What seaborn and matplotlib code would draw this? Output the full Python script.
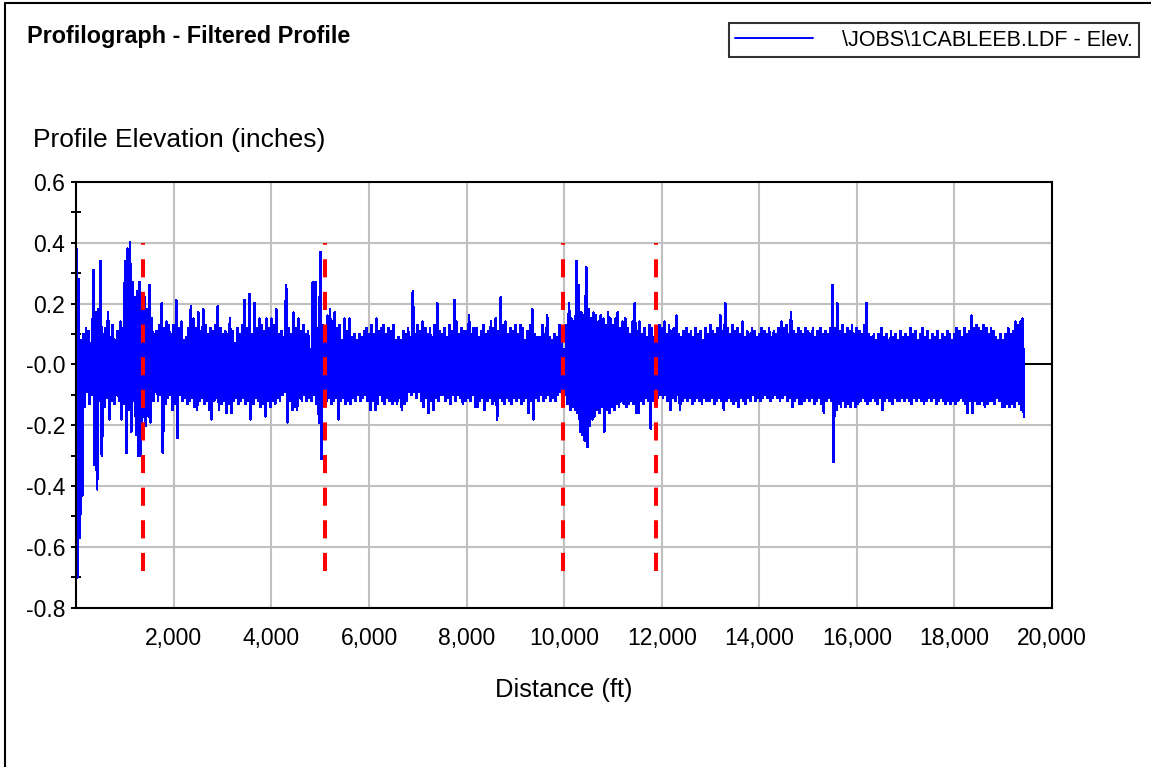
import numpy as np
import pandas as pd
import matplotlib
matplotlib.use("Agg")
import matplotlib.pyplot as plt
import seaborn as sns
from matplotlib.lines import Line2D

# ---------------- text ----------------
title_text = "Profilograph - Filtered Profile"
y_label = "Profile Elevation (inches)"
x_label = "Distance (ft)"
legend_label = "\\JOBS\\1CABLEEB.LDF - Elev."

# ---------------- data ----------------
# one upper and one lower excursion of the filtered profile per 50 ft of travel
sample_spacing_ft = 50

upper_peaks = [
    0.38, 0.28, 0.08, 0.10, 0.12, 0.11, 0.07, 0.31, 0.17, 0.18,
    0.34, 0.10, 0.12, 0.17, 0.09, 0.13, 0.08, 0.11, 0.14, 0.12,
    0.34, 0.38, 0.40, 0.27, 0.22, 0.24, 0.27, 0.20, 0.22, 0.18,
    0.26, 0.15, 0.10, 0.11, 0.13, 0.20, 0.12, 0.14, 0.13, 0.10,
    0.13, 0.21, 0.12, 0.14, 0.08, 0.09, 0.12, 0.19, 0.15, 0.12,
    0.17, 0.11, 0.18, 0.13, 0.10, 0.12, 0.11, 0.13, 0.19, 0.12,
    0.10, 0.11, 0.10, 0.15, 0.11, 0.07, 0.12, 0.10, 0.13, 0.21,
    0.12, 0.23, 0.10, 0.20, 0.12, 0.15, 0.13, 0.11, 0.15, 0.12,
    0.15, 0.13, 0.18, 0.10, 0.11, 0.09, 0.26, 0.12, 0.10, 0.17,
    0.12, 0.15, 0.11, 0.13, 0.10, 0.11, 0.05, 0.27, 0.27, 0.12,
    0.37, 0.13, 0.11, 0.16, 0.18, 0.14, 0.17, 0.12, 0.13, 0.08,
    0.15, 0.11, 0.15, 0.09, 0.10, 0.08, 0.10, 0.09, 0.11, 0.12,
    0.10, 0.13, 0.10, 0.15, 0.11, 0.12, 0.13, 0.10, 0.12, 0.11,
    0.13, 0.08, 0.09, 0.08, 0.11, 0.10, 0.12, 0.09, 0.24, 0.10,
    0.13, 0.11, 0.14, 0.12, 0.10, 0.12, 0.09, 0.13, 0.20, 0.11,
    0.10, 0.12, 0.09, 0.13, 0.11, 0.21, 0.14, 0.10, 0.12, 0.11,
    0.11, 0.16, 0.10, 0.12, 0.12, 0.09, 0.11, 0.13, 0.10, 0.11,
    0.14, 0.12, 0.15, 0.11, 0.22, 0.13, 0.14, 0.10, 0.12, 0.11,
    0.13, 0.10, 0.13, 0.12, 0.08, 0.11, 0.13, 0.18, 0.10, 0.09,
    0.09, 0.13, 0.10, 0.16, 0.09, 0.08, 0.10, 0.09, 0.13, 0.11,
    0.05, 0.13, 0.20, 0.15, 0.14, 0.34, 0.26, 0.17, 0.16, 0.32,
    0.18, 0.15, 0.17, 0.16, 0.14, 0.16, 0.15, 0.13, 0.17, 0.15,
    0.13, 0.15, 0.17, 0.12, 0.14, 0.15, 0.12, 0.10, 0.14, 0.20,
    0.11, 0.14, 0.10, 0.12, 0.09, 0.13, 0.12, 0.08, 0.11, 0.13,
    0.12, 0.14, 0.10, 0.13, 0.11, 0.12, 0.16, 0.10, 0.09, 0.11,
    0.12, 0.10, 0.11, 0.09, 0.12, 0.10, 0.11, 0.08, 0.12, 0.10,
    0.13, 0.11, 0.10, 0.12, 0.16, 0.11, 0.20, 0.12, 0.10, 0.13,
    0.11, 0.12, 0.10, 0.14, 0.09, 0.11, 0.10, 0.12, 0.11, 0.09,
    0.10, 0.12, 0.11, 0.10, 0.12, 0.09, 0.11, 0.10, 0.12, 0.14,
    0.12, 0.13, 0.10, 0.17, 0.11, 0.10, 0.12, 0.11, 0.10, 0.12,
    0.11, 0.10, 0.12, 0.09, 0.11, 0.12, 0.10, 0.11, 0.10, 0.12,
    0.26, 0.12, 0.20, 0.11, 0.13, 0.10, 0.12, 0.11, 0.13, 0.10,
    0.12, 0.11, 0.10, 0.13, 0.20, 0.10, 0.09, 0.10, 0.08, 0.10,
    0.12, 0.09, 0.10, 0.08, 0.11, 0.09, 0.10, 0.08, 0.11, 0.09,
    0.10, 0.09, 0.12, 0.10, 0.11, 0.08, 0.10, 0.12, 0.09, 0.11,
    0.08, 0.10, 0.09, 0.11, 0.08, 0.10, 0.09, 0.11, 0.10, 0.08,
    0.10, 0.12, 0.11, 0.09, 0.12, 0.10, 0.11, 0.16, 0.12, 0.13,
    0.12, 0.11, 0.13, 0.12, 0.10, 0.12, 0.11, 0.09, 0.08, 0.10,
    0.08, 0.10, 0.12, 0.10, 0.11, 0.14, 0.13, 0.14, 0.15,
]

lower_peaks = [
    -0.70, -0.57, -0.43, -0.14, -0.09, -0.13, -0.10, -0.33, -0.41, -0.12,
    -0.30, -0.14, -0.11, -0.18, -0.12, -0.13, -0.10, -0.12, -0.18, -0.13,
    -0.29, -0.15, -0.22, -0.12, -0.23, -0.30, -0.30, -0.17, -0.20, -0.17,
    -0.19, -0.12, -0.09, -0.12, -0.10, -0.29, -0.13, -0.11, -0.10, -0.15,
    -0.13, -0.24, -0.10, -0.12, -0.11, -0.13, -0.12, -0.11, -0.14, -0.15,
    -0.12, -0.11, -0.13, -0.12, -0.15, -0.18, -0.12, -0.11, -0.15, -0.13,
    -0.12, -0.16, -0.13, -0.16, -0.12, -0.11, -0.13, -0.12, -0.11, -0.13,
    -0.12, -0.18, -0.13, -0.11, -0.12, -0.14, -0.13, -0.17, -0.12, -0.14,
    -0.12, -0.13, -0.11, -0.12, -0.10, -0.09, -0.19, -0.12, -0.15, -0.14,
    -0.15, -0.11, -0.12, -0.10, -0.12, -0.11, -0.12, -0.10, -0.13, -0.19,
    -0.31, -0.10, -0.12, -0.11, -0.13, -0.12, -0.11, -0.18, -0.12, -0.11,
    -0.13, -0.12, -0.13, -0.11, -0.12, -0.10, -0.12, -0.11, -0.10, -0.12,
    -0.15, -0.12, -0.15, -0.13, -0.10, -0.12, -0.13, -0.11, -0.12, -0.13,
    -0.12, -0.13, -0.11, -0.15, -0.13, -0.12, -0.09, -0.10, -0.09, -0.11,
    -0.09, -0.12, -0.14, -0.11, -0.16, -0.12, -0.15, -0.11, -0.12, -0.10,
    -0.10, -0.12, -0.11, -0.13, -0.10, -0.12, -0.10, -0.11, -0.13, -0.12,
    -0.11, -0.12, -0.10, -0.14, -0.14, -0.12, -0.11, -0.15, -0.12, -0.11,
    -0.13, -0.12, -0.18, -0.11, -0.12, -0.13, -0.11, -0.12, -0.13, -0.11,
    -0.12, -0.11, -0.13, -0.12, -0.11, -0.16, -0.12, -0.18, -0.11, -0.12,
    -0.10, -0.12, -0.11, -0.10, -0.12, -0.11, -0.12, -0.10, -0.09, -0.08,
    -0.10, -0.13, -0.15, -0.14, -0.15, -0.16, -0.22, -0.23, -0.25, -0.27,
    -0.20, -0.18, -0.17, -0.15, -0.16, -0.14, -0.22, -0.15, -0.16, -0.14,
    -0.15, -0.13, -0.14, -0.12, -0.13, -0.14, -0.13, -0.12, -0.13, -0.16,
    -0.16, -0.12, -0.13, -0.11, -0.12, -0.21, -0.12, -0.10, -0.11, -0.10,
    -0.11, -0.10, -0.12, -0.15, -0.11, -0.12, -0.10, -0.15, -0.12, -0.11,
    -0.12, -0.11, -0.13, -0.12, -0.11, -0.12, -0.13, -0.11, -0.12, -0.12,
    -0.11, -0.13, -0.12, -0.11, -0.12, -0.15, -0.12, -0.11, -0.12, -0.13,
    -0.12, -0.14, -0.11, -0.12, -0.13, -0.11, -0.12, -0.10, -0.12, -0.11,
    -0.12, -0.11, -0.10, -0.11, -0.12, -0.11, -0.10, -0.11, -0.12, -0.11,
    -0.10, -0.12, -0.11, -0.14, -0.12, -0.11, -0.13, -0.13, -0.12, -0.11,
    -0.12, -0.11, -0.13, -0.12, -0.11, -0.13, -0.16, -0.12, -0.11, -0.12,
    -0.32, -0.15, -0.13, -0.14, -0.12, -0.14, -0.13, -0.14, -0.12, -0.14,
    -0.13, -0.12, -0.11, -0.12, -0.13, -0.12, -0.11, -0.12, -0.13, -0.11,
    -0.15, -0.12, -0.11, -0.12, -0.13, -0.11, -0.12, -0.12, -0.11, -0.12,
    -0.11, -0.12, -0.13, -0.11, -0.12, -0.11, -0.12, -0.13, -0.12, -0.11,
    -0.12, -0.11, -0.13, -0.12, -0.11, -0.12, -0.13, -0.12, -0.13, -0.12,
    -0.13, -0.12, -0.11, -0.12, -0.13, -0.16, -0.12, -0.16, -0.12, -0.13,
    -0.13, -0.12, -0.14, -0.13, -0.12, -0.12, -0.13, -0.11, -0.12, -0.14,
    -0.14, -0.13, -0.14, -0.13, -0.14, -0.12, -0.13, -0.15, -0.17,
]

# section boundary markers (red dashed)
marker_ft = [1365, 5090, 9985, 11890]
marker_top = 0.40
marker_bottom = -0.68

x_ticks = [2000, 4000, 6000, 8000, 10000, 12000, 14000, 16000, 18000, 20000]
x_tick_labels = ["2,000", "4,000", "6,000", "8,000", "10,000", "12,000",
                 "14,000", "16,000", "18,000", "20,000"]
y_ticks = [0.6, 0.4, 0.2, 0.0, -0.2, -0.4, -0.6, -0.8]
y_tick_labels = ["0.6", "0.4", "0.2", "-0.0", "-0.2", "-0.4", "-0.6", "-0.8"]
y_minor_ticks = [0.5, 0.3, 0.1, -0.1, -0.3, -0.5, -0.7]

# ---------------- assemble long table ----------------
n = min(len(upper_peaks), len(lower_peaks))
elev = np.empty(2 * n)
elev[0::2] = upper_peaks[:n]
elev[1::2] = lower_peaks[:n]
dist = np.arange(2 * n) * (sample_spacing_ft / 2.0)
df = pd.DataFrame({"Distance": dist, "Elevation": elev})

# ---------------- style ----------------
sns.set_theme(style="white")
plt.rcParams['font.family'] = ['Liberation Sans', 'DejaVu Sans']
plt.rcParams['text.color'] = 'black'
plt.rcParams['axes.labelcolor'] = 'black'
plt.rcParams['path.simplify'] = False

W, H = 1151, 767
fig = plt.figure(figsize=(W / 100, H / 100), dpi=100)
fig.patch.set_facecolor('white')

ax_l, ax_r, ax_t, ax_b = 76.3, 1052.0, 182.0, 607.7
ax = fig.add_axes([ax_l / W, 1 - ax_b / H, (ax_r - ax_l) / W, (ax_b - ax_t) / H])
ax.set_facecolor('white')

ax.set_xlim(0, 20000)
ax.set_ylim(-0.8, 0.6)
ax.set_xticks(x_ticks)
ax.set_xticklabels(x_tick_labels)
ax.set_yticks(y_ticks)
ax.set_yticklabels(y_tick_labels)
ax.set_yticks(y_minor_ticks, minor=True)

ax.set_axisbelow(True)
ax.grid(True, which='major', color='#c0c0c0', linewidth=1.5)
ax.axhline(0, color='black', linewidth=1.4, zorder=1.5)

sns.lineplot(data=df, x="Distance", y="Elevation", ax=ax, color='#0000ff',
             linewidth=1.3, estimator=None, sort=False, legend=False, zorder=2,
             antialiased=False)

ax.vlines(marker_ft, marker_bottom, marker_top, colors='#ff0000',
          linestyles=[(0, (4.5, 3.6))], linewidth=2.9, zorder=3)

for s in ax.spines.values():
    s.set_visible(True)
    s.set_color('black')
    s.set_linewidth(1.5)

ax.tick_params(axis='y', which='major', direction='out', length=3.8, width=1.4,
               pad=4.3, labelsize=16.5, colors='black', left=True)
ax.tick_params(axis='y', which='minor', direction='inout', length=7.4, width=1.4,
               colors='black', left=True)
ax.tick_params(axis='x', which='major', length=0, pad=14, labelsize=16.5,
               colors='black')

ax.set_xlabel(x_label, fontsize=18.4, labelpad=20, color='black')
ax.set_ylabel(y_label, fontsize=19.0, rotation=0, ha='left', va='baseline',
              color='black')
ax.yaxis.set_label_coords((33 - ax_l) / (ax_r - ax_l), (ax_b - 146.7) / (ax_b - ax_t))

fig.text(27 / W, 1 - 43.3 / H, title_text, fontsize=16.8, fontweight='bold',
         ha='left', va='baseline', color='black')

handle = Line2D([], [], color='#0000ff', linewidth=1.4)
leg = fig.legend([handle], [legend_label], loc='upper right',
                 bbox_to_anchor=(1139 / W, 1 - 23.5 / H), frameon=True,
                 fancybox=False, edgecolor='black', facecolor='white',
                 fontsize=15.5, handlelength=3.6, handletextpad=1.35,
                 borderpad=0.3, borderaxespad=0)
leg.get_frame().set_linewidth(1.5)

# outer window frame (left and top edges)
fig.add_artist(Line2D([5 / W, 5 / W], [0, 1 - 3 / H], transform=fig.transFigure,
                      color='black', linewidth=1.5))
fig.add_artist(Line2D([5 / W, 1], [1 - 3 / H, 1 - 3 / H], transform=fig.transFigure,
                      color='black', linewidth=1.5))

fig.savefig("out.png", dpi=100, facecolor='white')
